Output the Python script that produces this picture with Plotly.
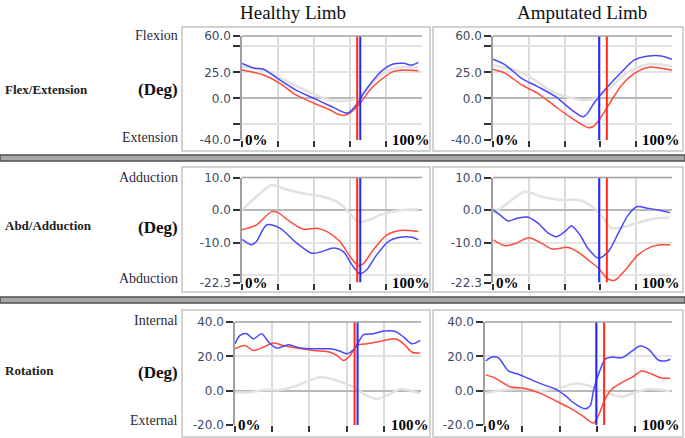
import plotly.graph_objects as go

W, H = 685, 438

# ---------------- data (percent of gait cycle, degrees) ----------------
# Row 1: Flex/Extension
hfe_blue_pct = [0, 7, 12, 21, 30, 40, 49, 57, 59, 65, 67, 73, 78, 84, 90, 94, 98]
hfe_blue = [33.7, 29, 28, 17.7, 8, 0, -7.3, -13.7, -14, -3, 3.3, 17.7, 27, 33, 33.7, 32, 34.7]
hfe_red_pct = [0, 12, 21, 30, 40, 49, 53, 57, 60, 66, 71, 77, 84, 90, 98]
hfe_red = [27.3, 22.5, 14.5, 3.3, -4.7, -11.2, -15, -16.3, -14, -4, 8, 17.7, 25.7, 27.3, 26.6]
hfe_gray_pct = [0, 12, 21, 30, 40, 50, 57, 62, 67, 73, 80, 88, 98]
hfe_gray = [31, 27, 20, 12, 4, -2, -2.5, -1, 5, 16, 26, 30, 30]

afe_blue_pct = [0, 7, 16, 25, 35, 44, 50, 52, 57, 64, 72, 79, 87, 94, 100]
afe_blue = [37.6, 32, 19.3, 11.3, 1.6, -11.2, -17.6, -16, -3.2, 11.3, 25.7, 37, 40.8, 40.8, 37.6]
afe_red_pct = [0, 7, 16, 25, 35, 44, 53, 56, 60, 64, 68, 72, 79, 87, 94, 100]
afe_red = [28, 24, 12.9, 4.9, -8, -19, -28, -27, -19, -8, 3, 12.9, 24, 30, 29, 27.3]
afe_gray_pct = [0, 16, 35, 50, 57, 64, 75, 87, 100]
afe_gray = [32, 25, 5, -1.5, 0, 8, 25, 33, 31]

# Row 2: Abd/Adduction
haa_blue_pct = [0, 5.4, 8, 13.7, 21, 30.4, 38.7, 44.3, 50.7, 56.3, 61, 65.6, 69.3, 74.8, 81.3, 87.8, 94.3, 98]
haa_blue = [-9, -10.7, -9.7, -4.6, -5.6, -10.2, -13.3, -12.8, -11.7, -12.8, -16.8, -19.6, -18.4, -13.8, -9.7, -8.4, -8.4, -9.2]
haa_red_pct = [0, 8, 16.5, 20, 26.7, 34, 41.5, 47, 54.4, 60, 64.6, 67.4, 73, 80.4, 87.8, 98]
haa_red = [-6.1, -4.6, -0.5, -0.8, -3.6, -5.9, -5.6, -6.6, -9.7, -14.3, -17.1, -16.5, -12.2, -7.7, -6.3, -6.6]
haa_gray_pct = [0, 8, 16.5, 23, 34, 45, 52.6, 58, 64.6, 69.3, 76.7, 86, 98]
haa_gray = [0, 4.1, 7.7, 6.6, 5.1, 4.1, 2.6, 0.2, -3.6, -3.3, -1.5, -0.2, 0.2]

aaa_blue_pct = [0.2, 3.9, 8.6, 13.2, 19.7, 25.3, 30.9, 35.6, 40.2, 43.9, 48.6, 53.3, 58.8, 64.4, 70, 75.6, 80.3, 86.8, 92.4, 98.9]
aaa_blue = [0, -1.5, -3.4, -2.6, -2.2, -4.1, -7.1, -8.2, -6.6, -4.9, -7.7, -12, -14.8, -12.8, -7.1, -1.5, 1, 0.5, 0, -0.8]
aaa_red_pct = [0.2, 6.7, 13, 20, 27, 33, 42, 48, 53, 59, 64, 68, 74, 81, 89, 94, 99]
aaa_red = [-9.2, -11, -10.2, -8.5, -10.2, -12, -11.5, -13.1, -15.3, -17.9, -21.2, -21.6, -18.4, -13.8, -11.2, -10.7, -10.7]
aaa_gray_pct = [0.2, 6.7, 17.9, 27.2, 38.4, 49.5, 58.8, 66.3, 73.7, 83, 90.5, 98.9]
aaa_gray = [-1, 1.5, 5.6, 4.1, 3.1, 2.9, -0.5, -5.6, -5.1, -3.6, -2.6, -2.3]

# Row 3: Rotation
hrot_blue_pct = [0, 2.7, 6.3, 9.9, 14.4, 18, 22.4, 28.7, 35, 44, 51.2, 56.6, 60.1, 63.7, 66.4, 69.1, 74.5, 79.9, 86.2, 90.7, 95.2, 99.6]
hrot_blue = [27.3, 32.2, 33.2, 30.2, 33.2, 28.3, 24.8, 26.7, 24.8, 24.4, 24.4, 23, 21.5, 23.8, 28.3, 32.6, 33.2, 34.7, 34.5, 31.2, 27.3, 29.3]
hrot_red_pct = [0, 5.4, 9.9, 15.3, 20.6, 26, 33.2, 42.2, 51.2, 54.8, 58.3, 61.9, 65.5, 70.9, 76.3, 81.7, 86.2, 90.7, 95.2, 99.6]
hrot_red = [24.4, 26.3, 23.4, 25.4, 27.7, 26.3, 24.8, 23.4, 22.4, 20.5, 17.6, 20.5, 26.3, 27.3, 28.3, 29.7, 30.2, 27.3, 22.4, 21.9]
hrot_gray_pct = [0, 8.1, 15.3, 24.2, 33.2, 42.2, 45.8, 54.8, 63.7, 70.9, 76.3, 81.7, 88.9, 94.3, 99.6]
hrot_gray = [-1, -1, 0.4, 0.4, 2.9, 6.8, 7.8, 5.9, 2, -2.9, -4.9, -2.9, 1, 0, -1.6]

arot_blue_pct = [0.4, 3.6, 7.1, 12.5, 17.9, 23.2, 30.4, 37.5, 42.9, 48.2, 53.6, 56.3, 58, 60.7, 64.3, 67.9, 73.2, 78.6, 83, 87.5, 92.9, 96.4, 99.1]
arot_blue = [17.3, 19.6, 19.2, 11.5, 9.6, 7.1, 3.8, 1, -2.9, -7.7, -10.6, -8.7, 0, 9.6, 18.3, 19.6, 19.2, 23, 26, 24, 17.7, 17.3, 18.3]
arot_red_pct = [0.4, 5.4, 13.4, 21.4, 30.4, 37.5, 44.6, 51.8, 58, 60.7, 64.3, 67.9, 73.2, 78.6, 83.9, 89.3, 94.6, 99.1]
arot_red = [9.2, 7.3, 2.3, 1.3, -1.9, -5.8, -9.6, -14.4, -18.8, -14.4, -4.8, 1, 4.8, 7.7, 11.5, 9.6, 7.3, 7.3]
arot_gray_pct = [0.4, 10.7, 19.6, 30.4, 41.1, 48.2, 55.4, 64.3, 73.2, 80.4, 87.5, 94.6, 99.1]
arot_gray = [-1.5, 0.4, 1, 0, 1.9, 4.2, 2.9, -1, -3.5, -1, 1, 0.4, -0.4]

# toe-off markers (percent of cycle): [red, blue] per panel
toe_healthy = [[64, 65.7], [64, 65.7], [64.3, 65.9]]
toe_amputated = [[63.6, 59.3], [63.6, 59.3], [63.7, 59.5]]

# axis ranges and tick labels per row
row_ranges = [[-40, 60], [-22.3, 10], [-20, 40]]
row_tickvals = [[60, 50, 25, 0, -25, -40], [10, 0, -10, -20, -22.3], [40, 20, 0, -20]]
row_ticktext = [["60.0", "", "25.0", "0.0", "", "-40.0"],
                ["10.0", "0.0", "-10.0", "", "-22.3"],
                ["40.0", "20.0", "0.0", "-20.0"]]
row_names = ["Flex/Extension", "Abd/Adduction", "Rotation"]
row_top = ["Flexion", "Adduction", "Internal"]
row_bottom = ["Extension", "Abduction", "External"]
col_titles = ["Healthy Limb", "Amputated Limb"]

# ---------------- layout geometry (pixels) ----------------
def px(x):
    return x / W

def py(y):
    return 1 - y / H

row_y = [(36, 140), (177.5, 282.5), (322, 425)]
col_x = [[(242, 422), (493, 672)], [(242, 422), (493, 672)], [(235, 421), (485, 672)]]
frame_y = [(27, 151), (167, 292), (310, 437)]
frame_x = [(182, 430), (433, 683)]
label_y = [(90, 90, 35, 137), (225, 227, 177, 278), (370, 372, 320, 420)]

panels = [
    (hfe_blue_pct, hfe_blue, hfe_red_pct, hfe_red, hfe_gray_pct, hfe_gray),
    (afe_blue_pct, afe_blue, afe_red_pct, afe_red, afe_gray_pct, afe_gray),
    (haa_blue_pct, haa_blue, haa_red_pct, haa_red, haa_gray_pct, haa_gray),
    (aaa_blue_pct, aaa_blue, aaa_red_pct, aaa_red, aaa_gray_pct, aaa_gray),
    (hrot_blue_pct, hrot_blue, hrot_red_pct, hrot_red, hrot_gray_pct, hrot_gray),
    (arot_blue_pct, arot_blue, arot_red_pct, arot_red, arot_gray_pct, arot_gray),
]

BLUE = "#4848ff"
RED = "#ff4a3a"
GRAY = "#e2e2e2"
VBLUE = "#2626ff"
VRED = "#ff2a1a"
TICKC = "#3d4a66"
SERIF = "Liberation Serif"

fig = go.Figure()
layout = {}
shapes = []
annotations = []

for i, (bx, by, rx, ry, gx, gy) in enumerate(panels):
    r, c = divmod(i, 2)
    n = "" if i == 0 else str(i + 1)
    xa, ya = "x" + n, "y" + n
    lo, hi = row_ranges[r]
    toe = toe_healthy[r] if c == 0 else toe_amputated[r]
    fig.add_trace(go.Scatter(x=gx, y=gy, mode="lines", line=dict(color=GRAY, width=2.5, shape="spline", smoothing=0.8),
                             xaxis=xa, yaxis=ya, hoverinfo="skip", showlegend=False))
    fig.add_trace(go.Scatter(x=rx, y=ry, mode="lines", line=dict(color=RED, width=1.5, shape="spline", smoothing=0.8),
                             xaxis=xa, yaxis=ya, showlegend=False))
    fig.add_trace(go.Scatter(x=bx, y=by, mode="lines", line=dict(color=BLUE, width=1.5, shape="spline", smoothing=0.8),
                             xaxis=xa, yaxis=ya, showlegend=False))
    fig.add_trace(go.Scatter(x=[toe[0], toe[0]], y=[lo, hi], mode="lines", line=dict(color=VRED, width=2),
                             xaxis=xa, yaxis=ya, showlegend=False))
    fig.add_trace(go.Scatter(x=[toe[1], toe[1]], y=[lo, hi], mode="lines", line=dict(color=VBLUE, width=2),
                             xaxis=xa, yaxis=ya, showlegend=False))

    x0, x1 = col_x[r][c]
    y0, y1 = row_y[r]
    layout["xaxis" + n] = dict(domain=[px(x0), px(x1)], range=[0, 100], anchor=ya, automargin=False,
                               tickvals=[0, 20, 40, 60, 80], showticklabels=False,
                               ticks="outside", ticklen=6, tickwidth=1.5, tickcolor="#333",
                               showgrid=True, gridcolor="#dadada", gridwidth=1.5,
                               zeroline=False, showline=False, fixedrange=True)
    layout["yaxis" + n] = dict(domain=[py(y1), py(y0)], range=[lo, hi], anchor=xa, automargin=False,
                               tickvals=row_tickvals[r], ticktext=row_ticktext[r],
                               ticks="outside", ticklen=7, tickwidth=1.5, tickcolor="#333",
                               tickfont=dict(family="DejaVu Sans", size=12, color=TICKC),
                               showgrid=True, gridcolor="#e3e3e3", gridwidth=1.5,
                               zeroline=True, zerolinecolor="#b8b8b8", zerolinewidth=1.5,
                               showline=True, linecolor="#a0a0a0", linewidth=1.5, fixedrange=True)
    shapes.append(dict(type="line", xref=xa + " domain", yref=ya + " domain", x0=0, x1=1, y0=1, y1=1,
                       line=dict(color="#a0a0a0", width=1.5)))
    annotations.append(dict(text="<b>0%</b>", xref=xa + " domain", yref=ya + " domain", x=0, y=0,
                            xanchor="left", yanchor="middle", showarrow=False, xshift=1,
                            font=dict(family=SERIF, size=15, color="#000")))
    annotations.append(dict(text="<b>100%</b>", xref=xa + " domain", yref=ya + " domain", x=1, y=0,
                            xanchor="right", yanchor="middle", showarrow=False, xshift=10,
                            font=dict(family=SERIF, size=15, color="#000")))

# panel frames
for r in range(3):
    for c in range(2):
        fx0, fx1 = frame_x[c]
        fy0, fy1 = frame_y[r]
        shapes.append(dict(type="rect", xref="paper", yref="paper", x0=px(fx0), x1=px(fx1), y0=py(fy1), y1=py(fy0),
                           line=dict(color="#c4c4c4", width=1.5), layer="below"))

# row separators
for sy0, sy1 in [(155, 161), (297, 303)]:
    shapes.append(dict(type="rect", xref="paper", yref="paper", x0=0, x1=1, y0=py(sy1), y1=py(sy0),
                       fillcolor="#a8a8a8", line=dict(color="#505050", width=1.5)))

# column titles
for c, (cx, t) in enumerate(zip([293, 582], col_titles)):
    annotations.append(dict(text=t, xref="paper", yref="paper", x=px(cx), y=py(12), xanchor="center",
                            yanchor="middle", showarrow=False, font=dict(family=SERIF, size=19, color="#111")))

# row labels
for r in range(3):
    ly, dy, ty, by_ = label_y[r]
    annotations.append(dict(text="<b>" + row_names[r] + "</b>", xref="paper", yref="paper", x=px(3), y=py(ly),
                            xanchor="left", yanchor="middle", showarrow=False,
                            font=dict(family=SERIF, size=13, color="#222")))
    annotations.append(dict(text="<b>(Deg)</b>", xref="paper", yref="paper", x=px(180), y=py(dy),
                            xanchor="right", yanchor="middle", showarrow=False,
                            font=dict(family=SERIF, size=17, color="#111")))
    annotations.append(dict(text=row_top[r], xref="paper", yref="paper", x=px(180), y=py(ty),
                            xanchor="right", yanchor="middle", showarrow=False,
                            font=dict(family=SERIF, size=14, color="#2a2a3a")))
    annotations.append(dict(text=row_bottom[r], xref="paper", yref="paper", x=px(180), y=py(by_),
                            xanchor="right", yanchor="middle", showarrow=False,
                            font=dict(family=SERIF, size=14, color="#2a2a3a")))

fig.update_layout(width=W, height=H, margin=dict(l=0, r=0, t=0, b=0, pad=0, autoexpand=False), autosize=False,
                  paper_bgcolor="white", plot_bgcolor="white", showlegend=False,
                  shapes=shapes, annotations=annotations, **layout)

fig.write_html("out.html", config={"displayModeBar": False},
               post_script="document.body.style.margin='0';document.body.style.overflow='hidden';")
